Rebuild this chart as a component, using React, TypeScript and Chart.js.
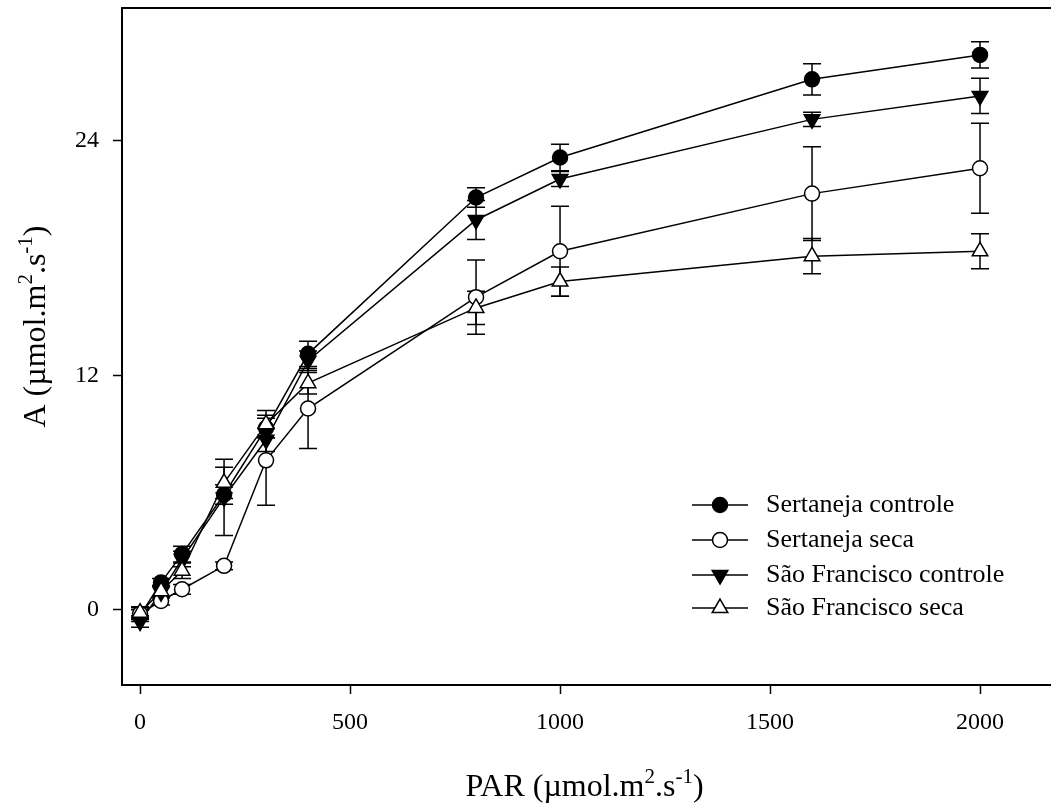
import React, { useEffect, useRef } from "react";
import { Chart, registerables } from "chart.js";

Chart.register(...registerables);

// PAR levels (µmol.m-2.s-1)
const parLevels = [0, 50, 100, 200, 300, 400, 800, 1000, 1600, 2000];

// Net assimilation A, means and error bar half-lengths per treatment
const sertanejaControle = [-0.3, 1.4, 2.85, 5.9, 9.3, 13.1, 21.1, 23.15, 27.15, 28.4];
const sertanejaControleErr = [0.3, 0.2, 0.4, 0.5, 0.5, 0.65, 0.5, 0.68, 0.8, 0.67];

const sertanejaSeca = [-0.2, 0.45, 1.05, 2.25, 7.65, 10.3, 16.0, 18.35, 21.3, 22.6];
const sertanejaSecaErr = [0.3, 0.2, 0.25, 0.2, 2.3, 2.05, 1.9, 2.3, 2.4, 2.3];

const saoFranciscoControle = [-0.6, 0.9, 2.6, 5.75, 8.7, 12.75, 19.95, 22.05, 25.1, 26.3];
const saoFranciscoControleErr = [0.3, 0.3, 0.4, 1.95, 0.6, 0.5, 1.0, 0.38, 0.37, 0.9];

const saoFranciscoSeca = [-0.15, 0.95, 2.0, 6.5, 9.5, 11.6, 15.45, 16.8, 18.1, 18.35];
const saoFranciscoSecaErr = [0.3, 0.3, 0.4, 0.8, 0.7, 0.55, 0.85, 0.75, 0.9, 0.9];

const seriesLabels = [
  "Sertaneja controle",
  "Sertaneja seca",
  "São Francisco controle",
  "São Francisco seca",
];

const xTickValues = [0, 500, 1000, 1500, 2000];
const yTickValues = [0, 12, 24];

const FONT = '"Liberation Serif", "Times New Roman", serif';

type Marker = { kind: "circle" | "up" | "down"; fill: string };
const markers: Marker[] = [
  { kind: "circle", fill: "#000" },
  { kind: "circle", fill: "#fff" },
  { kind: "down", fill: "#000" },
  { kind: "up", fill: "#fff" },
];

function drawMarker(ctx: CanvasRenderingContext2D, m: Marker, x: number, y: number) {
  ctx.save();
  ctx.beginPath();
  if (m.kind === "circle") {
    ctx.arc(x, y, 7.5, 0, Math.PI * 2);
  } else {
    const r = 9;
    const s = m.kind === "up" ? -1 : 1;
    ctx.moveTo(x, y + s * r);
    ctx.lineTo(x + r * Math.sin((2 * Math.PI) / 3), y - s * r * 0.5);
    ctx.lineTo(x - r * Math.sin((2 * Math.PI) / 3), y - s * r * 0.5);
    ctx.closePath();
  }
  ctx.fillStyle = m.fill;
  ctx.fill();
  ctx.lineWidth = 1.5;
  ctx.strokeStyle = "#000";
  ctx.stroke();
  ctx.restore();
}

type Part = { t: string; sup?: boolean };

function drawRich(
  ctx: CanvasRenderingContext2D,
  parts: Part[],
  cx: number,
  baseline: number,
  size: number,
  supSize: number
) {
  const widths = parts.map((p) => {
    ctx.font = `${p.sup ? supSize : size}px ${FONT}`;
    return ctx.measureText(p.t).width;
  });
  const total = widths.reduce((a, b) => a + b, 0);
  let x = cx - total / 2;
  ctx.textBaseline = "alphabetic";
  ctx.textAlign = "left";
  ctx.fillStyle = "#000";
  parts.forEach((p, i) => {
    ctx.font = `${p.sup ? supSize : size}px ${FONT}`;
    ctx.fillText(p.t, x, p.sup ? baseline - size * 0.42 : baseline);
    x += widths[i];
  });
}

const errorArrays = [
  sertanejaControleErr,
  sertanejaSecaErr,
  saoFranciscoControleErr,
  saoFranciscoSecaErr,
];

const errorBarPlugin = {
  id: "errorBars",
  beforeDatasetsDraw(chart: any) {
    const { ctx } = chart;
    const xs = chart.scales.x;
    const ys = chart.scales.y;
    ctx.save();
    ctx.strokeStyle = "#000";
    ctx.lineWidth = 1.5;
    chart.data.datasets.forEach((ds: any, di: number) => {
      const errs = errorArrays[di];
      ds.data.forEach((pt: any, i: number) => {
        const e = errs[i];
        const px = xs.getPixelForValue(pt.x);
        const top = ys.getPixelForValue(pt.y + e);
        const bot = ys.getPixelForValue(pt.y - e);
        ctx.beginPath();
        ctx.moveTo(px, top);
        ctx.lineTo(px, bot);
        ctx.moveTo(px - 9, top);
        ctx.lineTo(px + 9, top);
        ctx.moveTo(px - 9, bot);
        ctx.lineTo(px + 9, bot);
        ctx.stroke();
      });
    });
    ctx.restore();
  },
};

const decorPlugin = {
  id: "decor",
  afterDatasetsDraw(chart: any) {
    const { ctx, chartArea } = chart;
    // markers drawn on top of lines
    chart.data.datasets.forEach((ds: any, di: number) => {
      const meta = chart.getDatasetMeta(di);
      meta.data.forEach((el: any) => drawMarker(ctx, markers[di], el.x, el.y));
    });

    ctx.save();
    // top frame line
    ctx.strokeStyle = "#000";
    ctx.lineWidth = 2;
    ctx.beginPath();
    ctx.moveTo(chartArea.left - 1, chartArea.top);
    ctx.lineTo(chartArea.right, chartArea.top);
    ctx.stroke();

    // legend
    const rows = [505, 540, 575, 608];
    seriesLabels.forEach((label, i) => {
      const y = rows[i];
      ctx.strokeStyle = "#000";
      ctx.lineWidth = 1.5;
      ctx.beginPath();
      ctx.moveTo(692, y);
      ctx.lineTo(748, y);
      ctx.stroke();
      drawMarker(ctx, markers[i], 720, y);
      ctx.fillStyle = "#000";
      ctx.font = `26px ${FONT}`;
      ctx.textAlign = "left";
      ctx.textBaseline = "middle";
      ctx.fillText(label, 766, y);
    });

    // axis titles
    const unit: Part[] = [
      { t: " (µmol.m" },
      { t: "2", sup: true },
      { t: ".s" },
      { t: "-1", sup: true },
      { t: ")" },
    ];
    drawRich(ctx, [{ t: "PAR" }, ...unit], (chartArea.left + chartArea.right) / 2 - 2, 796, 32, 21);

    ctx.translate(45, (chartArea.top + chartArea.bottom) / 2 - 20);
    ctx.rotate(-Math.PI / 2);
    drawRich(ctx, [{ t: "A" }, ...unit], 0, 0, 32, 21);
    ctx.restore();
  },
};

function buildDataset(label: string, values: number[]) {
  return {
    label,
    data: parLevels.map((x, i) => ({ x, y: values[i] })),
    borderColor: "#000",
    borderWidth: 1.5,
    pointRadius: 0,
    pointHoverRadius: 0,
    fill: false,
    tension: 0,
    clip: false as const,
  };
}

export default function App() {
  const canvasRef = useRef<HTMLCanvasElement | null>(null);

  useEffect(() => {
    if (!canvasRef.current) return;
    const chart = new Chart(canvasRef.current, {
      type: "line",
      data: {
        datasets: [
          buildDataset(seriesLabels[0], sertanejaControle),
          buildDataset(seriesLabels[1], sertanejaSeca),
          buildDataset(seriesLabels[2], saoFranciscoControle),
          buildDataset(seriesLabels[3], saoFranciscoSeca),
        ],
      },
      options: {
        animation: false,
        responsive: false,
        devicePixelRatio: 1,
        layout: { padding: { top: 8, left: 0, right: 0, bottom: 0 } },
        plugins: {
          legend: { display: false },
          tooltip: { enabled: false },
        },
        scales: {
          x: {
            type: "linear",
            min: -43,
            max: 2169,
            afterBuildTicks: (s: any) => {
              s.ticks = xTickValues.map((v) => ({ value: v }));
            },
            afterFit: (s: any) => {
              s.height = 118;
              s.paddingLeft = 0;
              s.paddingRight = 0;
            },
            grid: {
              display: true,
              drawOnChartArea: false,
              drawTicks: true,
              tickLength: 9,
              tickWidth: 1.5,
              tickColor: "#000",
            },
            border: { display: true, color: "#000", width: 2 },
            ticks: {
              color: "#000",
              font: { family: FONT, size: 24 },
              padding: 14,
              maxRotation: 0,
              autoSkip: false,
              callback: (v: any) => String(v),
            },
          },
          y: {
            type: "linear",
            min: -3.85,
            max: 30.8,
            afterBuildTicks: (s: any) => {
              s.ticks = yTickValues.map((v) => ({ value: v }));
            },
            afterFit: (s: any) => {
              s.width = 122;
              s.paddingTop = 0;
              s.paddingBottom = 0;
            },
            grid: {
              display: true,
              drawOnChartArea: false,
              drawTicks: true,
              tickLength: 9,
              tickWidth: 1.5,
              tickColor: "#000",
            },
            border: { display: true, color: "#000", width: 2 },
            ticks: {
              color: "#000",
              font: { family: FONT, size: 24 },
              padding: 14,
              autoSkip: false,
              callback: (v: any) => String(v),
            },
          },
        },
      },
      plugins: [errorBarPlugin, decorPlugin],
    });
    return () => chart.destroy();
  }, []);

  return (
    <div style={{ position: "absolute", left: 0, top: 0, width: 1051, height: 803, background: "#fff" }}>
      <canvas ref={canvasRef} width={1051} height={803} style={{ display: "block" }} />
    </div>
  );
}
